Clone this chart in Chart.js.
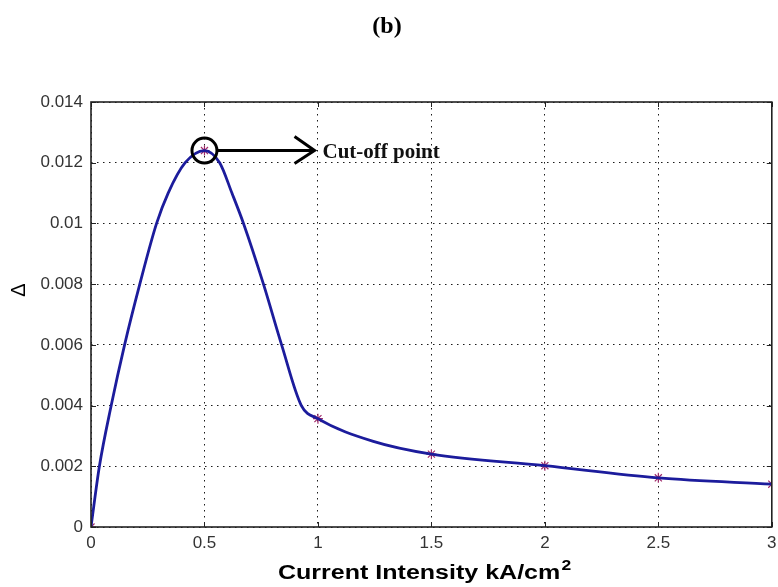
<!DOCTYPE html>
<html>
<head>
<meta charset="utf-8">
<script src="https://cdn.jsdelivr.net/npm/chart.js@4"></script>
<style>
  html,body{margin:0;padding:0;background:#fff;}
  #wrap{width:778px;height:587px;position:relative;}
</style>
</head>
<body>
<div id="wrap"><canvas id="c"></canvas></div>
<script>
// valores (curva continua + marcadores '*')
const curveX = [0, 0.037, 0.089, 0.148, 0.215, 0.289, 0.34, 0.415, 0.5, 0.567, 0.621, 0.672, 0.76, 0.84, 0.927, 1, 1.244, 1.5, 2, 2.5, 3];
const curveY = [0, 0.002, 0.004, 0.006, 0.008, 0.010, 0.011, 0.012, 0.0124, 0.012, 0.011, 0.010, 0.008, 0.006, 0.004, 0.00357, 0.00282, 0.0024, 0.00202, 0.00162, 0.00141];
const markX = [0, 0.5, 1, 1.5, 2, 2.5, 3];
const markY = [0, 0.0124, 0.00357, 0.0024, 0.00202, 0.00162, 0.00141];
const xTicks = [0, 0.5, 1, 1.5, 2, 2.5, 3];
const yTicks = [0, 0.002, 0.004, 0.006, 0.008, 0.01, 0.012, 0.014];
const yTickLabels = ['0', '0.002', '0.004', '0.006', '0.008', '0.01', '0.012', '0.014'];
// anotación "Cut-off point"
const cutoffX = 0.5, cutoffY = 0.0124, arrowEndX = 0.985;
const cutoffLabel = 'Cut-off point';
const titleText = '(b)';
const xTitle = 'Current Intensity kA/cm';
const yTitle = 'Δ';

const tickFont = {family:'"Liberation Sans", Arial, sans-serif', size:17};
const gridStyle = {color:'#1a1a1a', lineWidth:1, drawTicks:false};

// caja tipo MATLAB + textos + anotación
const extras = {
  id:'extras',
  afterDraw(chart){
    const {ctx, chartArea:a, scales:{x, y}} = chart;
    ctx.save();
    // ticks hacia adentro en los 4 lados
    ctx.strokeStyle = '#222'; ctx.lineWidth = 1;
    xTicks.forEach(v => {
      const px = Math.round(x.getPixelForValue(v)) + 0.5;
      ctx.beginPath(); ctx.moveTo(px, a.bottom); ctx.lineTo(px, a.bottom - 5);
      ctx.moveTo(px, a.top); ctx.lineTo(px, a.top + 5); ctx.stroke();
    });
    yTicks.forEach(v => {
      const py = Math.round(y.getPixelForValue(v)) + 0.5;
      ctx.beginPath(); ctx.moveTo(a.left, py); ctx.lineTo(a.left + 5, py);
      ctx.moveTo(a.right, py); ctx.lineTo(a.right - 5, py); ctx.stroke();
    });
    // caja
    ctx.strokeStyle = '#222'; ctx.lineWidth = 1.6;
    ctx.strokeRect(a.left, a.top, a.right - a.left, a.bottom - a.top);

    // círculo + flecha
    const cx = x.getPixelForValue(cutoffX), cy = y.getPixelForValue(cutoffY);
    const ex = x.getPixelForValue(arrowEndX);
    ctx.strokeStyle = '#000'; ctx.lineWidth = 3;
    ctx.beginPath(); ctx.arc(cx, cy, 12.5, 0, Math.PI * 2); ctx.stroke();
    ctx.beginPath(); ctx.moveTo(cx + 13, cy); ctx.lineTo(ex, cy); ctx.stroke();
    ctx.beginPath(); ctx.moveTo(ex - 20, cy - 14); ctx.lineTo(ex, cy); ctx.lineTo(ex - 20, cy + 13); ctx.stroke();
    ctx.fillStyle = '#111';
    ctx.font = 'bold 21px "Liberation Serif", "Times New Roman", serif';
    ctx.textAlign = 'left'; ctx.textBaseline = 'alphabetic';
    ctx.fillText(cutoffLabel, ex + 8, cy + 7);

    // título "(b)"
    ctx.fillStyle = '#000';
    ctx.font = 'bold 24px "Liberation Serif", "Times New Roman", serif';
    ctx.textAlign = 'center';
    ctx.fillText(titleText, 387, 33);

    // título eje x (estirado como en la figura original)
    ctx.save();
    ctx.font = 'bold 20px "Liberation Sans", Arial, sans-serif';
    const w = ctx.measureText(xTitle).width;
    ctx.font = 'bold 14px "Liberation Sans", Arial, sans-serif';
    const w2 = ctx.measureText('2').width;
    const sx = 292 / (w + w2);
    ctx.translate(278, 579);
    ctx.scale(sx, 1);
    ctx.textAlign = 'left';
    ctx.font = 'bold 20px "Liberation Sans", Arial, sans-serif';
    ctx.fillText(xTitle, 0, 0);
    ctx.font = 'bold 14px "Liberation Sans", Arial, sans-serif';
    ctx.fillText('2', w + 1, -9);
    ctx.restore();

    // título eje y
    ctx.save();
    ctx.translate(19, 290);
    ctx.rotate(-Math.PI / 2);
    ctx.font = '20px "Liberation Sans", Arial, sans-serif';
    ctx.textAlign = 'center'; ctx.textBaseline = 'middle';
    ctx.fillText(yTitle, 0, 0);
    ctx.restore();
    ctx.restore();
  }
};

new Chart(document.getElementById('c'), {
  type:'line',
  data:{datasets:[
    {label:'curva', data:curveX.map((v, i) => ({x:v, y:curveY[i]})),
     borderColor:'#1c1c9c', borderWidth:2.8, pointRadius:0, fill:false,
     cubicInterpolationMode:'monotone'},
    {label:'puntos', data:markX.map((v, i) => ({x:v, y:markY[i]})),
     showLine:false, pointStyle:'star', pointRadius:5, borderWidth:1.2,
     borderColor:'#a02a6a', backgroundColor:'#a02a6a'}
  ]},
  options:{
    responsive:true, maintainAspectRatio:false, animation:false,
    layout:{padding:{top:102, right:6, left:0, bottom:0}},
    plugins:{legend:{display:false}, tooltip:{enabled:false}, title:{display:false}},
    scales:{
      x:{type:'linear', min:0, max:3,
         afterBuildTicks:s => { s.ticks = xTicks.map(v => ({value:v})); },
         afterFit:s => { s.height = 60; s.paddingLeft = 0; s.paddingRight = 0; },
         grid:{...gridStyle}, border:{display:false, dash:[1.5, 4.5]},
         ticks:{color:'#333', font:tickFont, padding:6, maxRotation:0, callback:v => String(v)}},
      y:{type:'linear', min:0, max:0.014,
         afterBuildTicks:s => { s.ticks = yTicks.map(v => ({value:v})); },
         afterFit:s => { s.width = 91; s.paddingTop = 0; s.paddingBottom = 0; },
         grid:{...gridStyle}, border:{display:false, dash:[1.5, 4.5]},
         ticks:{color:'#333', font:tickFont, padding:8,
                callback:(v, i) => yTickLabels[i]}}
    }
  },
  plugins:[extras]
});
</script>
</body>
</html>
